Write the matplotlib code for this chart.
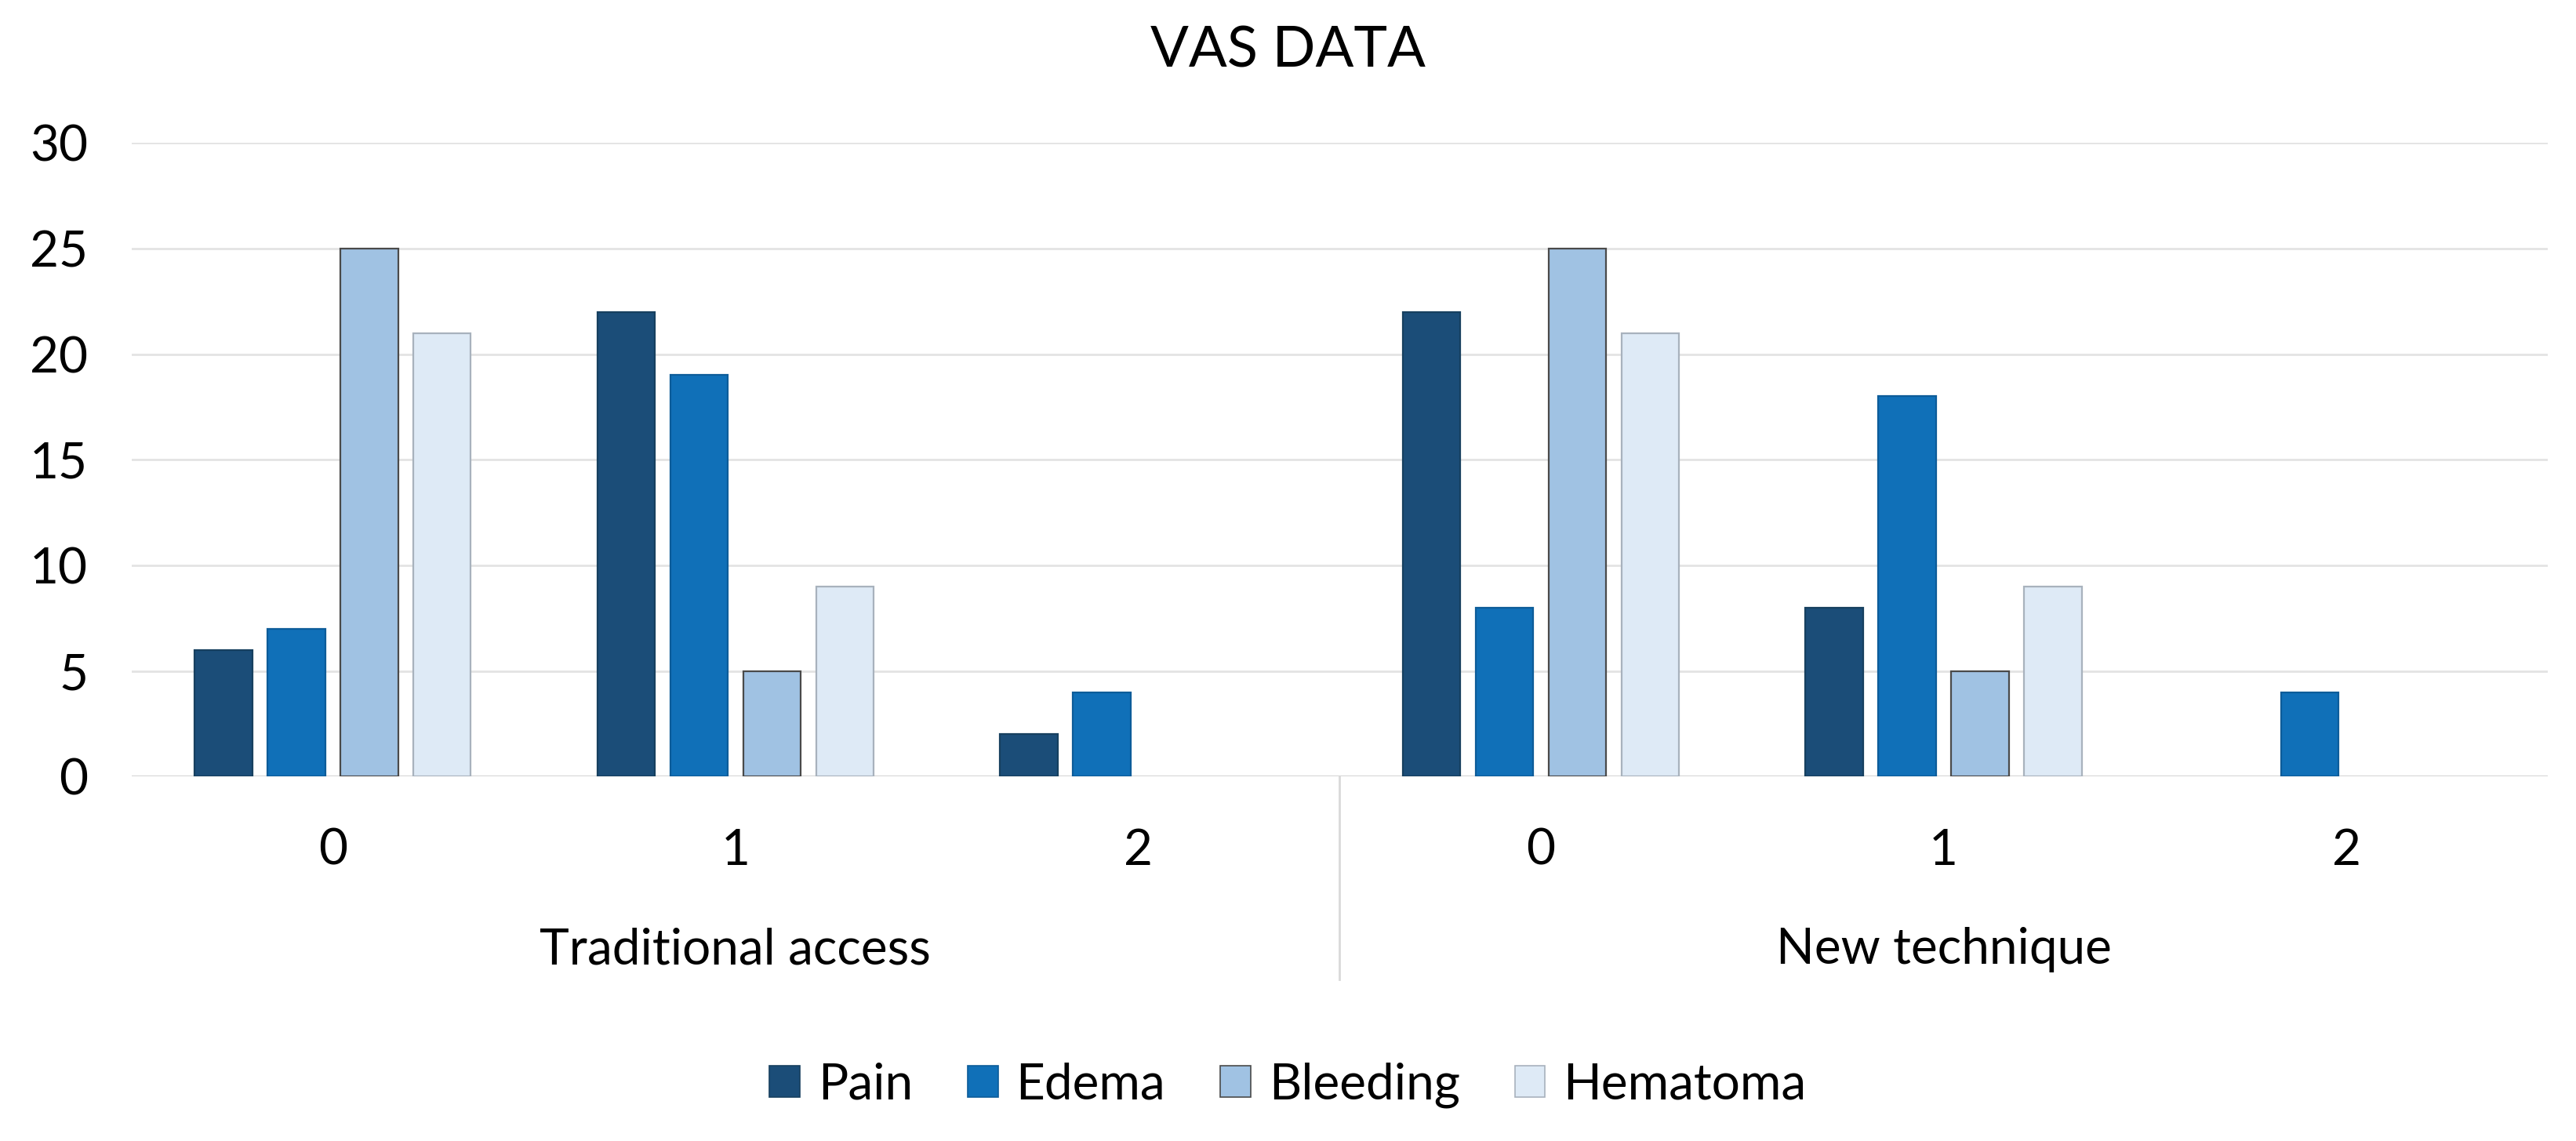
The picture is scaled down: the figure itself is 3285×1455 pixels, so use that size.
import matplotlib
matplotlib.use("Agg")
import matplotlib.pyplot as plt
from matplotlib.patches import Patch
import numpy as np

plt.rcParams['font.family'] = ['Lato', 'DejaVu Sans']

title = "VAS DATA"
groups = ["Traditional access", "New technique"]
categories = ["0", "1", "2"]
series = ["Pain", "Edema", "Bleeding", "Hematoma"]
pain = [6, 22, 2, 22, 8, 0]
edema = [7, 19, 4, 8, 18, 4]
bleeding = [25, 5, 0, 25, 5, 0]
hematoma = [21, 9, 0, 21, 9, 0]
yticks = [0, 5, 10, 15, 20, 25, 30]

values = [pain, edema, bleeding, hematoma]
colors = ["#1B4D78", "#1070B8", "#A0C2E3", "#DEEAF6"]
edges = ["#17405f", "#0d5c99", "#4a4a4a", "#a8b2bd"]

fig = plt.figure(figsize=(32.85, 14.55), dpi=100)
ax = fig.add_axes([0.051, 0.3194, 0.938, 0.5554])

n = len(pain)
x = np.arange(n)
bw = 0.143
step = 0.181
for j, (vals, c, ec) in enumerate(zip(values, colors, edges)):
    bars = ax.bar(x + (j - 1.5) * step, vals, width=bw, color=c, edgecolor=ec,
                  linewidth=1.6, zorder=3, label=series[j])
    for b, v in zip(bars, vals):
        if v == 0:
            b.set_visible(False)

ax.set_xlim(-0.5, n - 0.5)
ax.set_ylim(0, 30)
ax.set_yticks(yticks)
ax.set_yticklabels([str(t) for t in yticks], fontsize=46)
ax.tick_params(axis='y', length=0, pad=40)
ax.set_xticks([])
for s in ax.spines.values():
    s.set_visible(False)
ax.grid(axis='y', color='#e3e3e3', linewidth=2, zorder=0)
ax.axhline(0, color='#d9d9d9', linewidth=2.5, zorder=2)

# category labels
for i in range(n):
    ax.text(x[i], -3.5, categories[i % 3], ha='center', va='center', fontsize=46, clip_on=False)
for g, name in enumerate(groups):
    ax.text(g * 3 + 1, -8.2, name, ha='center', va='center', fontsize=46, clip_on=False)
ax.plot([2.5, 2.5], [0, -9.6], color='#d9d9d9', linewidth=2, clip_on=False)

fig.text(0.5, 0.955, title, ha='center', va='center', fontsize=52)

handles = [Patch(facecolor=c, edgecolor=ec, linewidth=1.2) for c, ec in zip(colors, edges)]
fig.legend(handles, series, loc='center', bbox_to_anchor=(0.5, 0.049), ncol=4, frameon=False,
           fontsize=46, handlelength=0.6, handleheight=0.6, handletextpad=0.36, columnspacing=1.1)

fig.savefig("out.png", dpi=100)
